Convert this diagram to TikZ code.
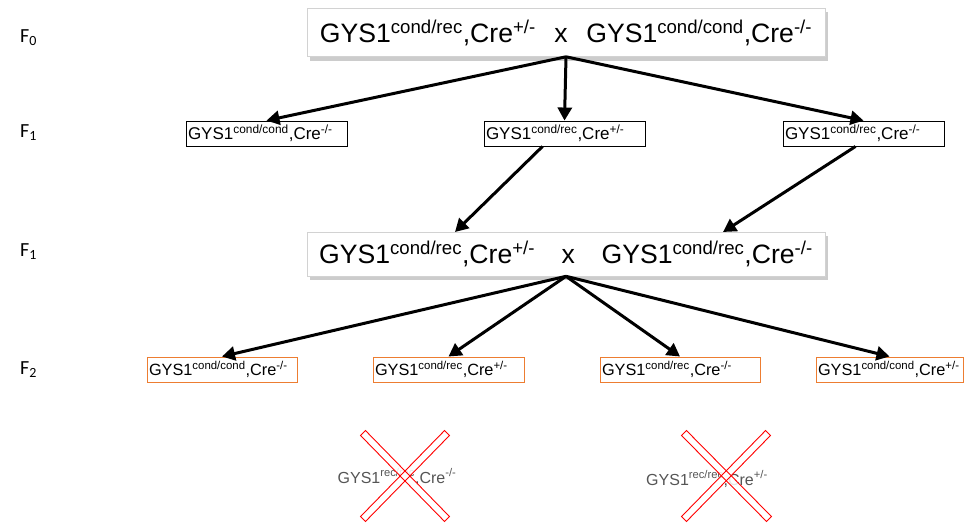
\documentclass[tikz,border=0pt]{standalone}
\usepackage{fontspec}
\setmainfont{Liberation Sans}
\newfontfamily\calfont{Carlito}
\usetikzlibrary{arrows.meta,shadows,calc}
\definecolor{offorange}{RGB}{237,125,49}
\definecolor{xgray}{RGB}{85,85,85}
\begin{document}
\begin{tikzpicture}[x=1pt,y=-1pt,
  bigbox/.style={draw=gray!35, fill=white, line width=0.6pt, minimum width=518pt, minimum height=48pt, inner sep=0pt,
    font=\fontsize{26.6}{30}\selectfont,
    drop shadow={shadow xshift=3pt, shadow yshift=-4pt, fill=gray!80, opacity=0.5}},
  smallbox/.style={draw=black, line width=0.9pt, fill=white, text width=157pt, align=left, minimum height=25pt,
    inner xsep=2pt, inner ysep=0pt, font=\fontsize{17}{19}\selectfont},
  obox/.style={draw=offorange, line width=1pt, fill=white, align=left, minimum height=25pt,
    inner xsep=2pt, inner ysep=0pt, font=\fontsize{16.3}{19}\selectfont},
  gen/.style={font=\calfont\fontsize{20}{22}\selectfont, anchor=west, inner sep=0pt},
  arr/.style={line width=3pt, -{Triangle[length=13pt,width=14pt]}},
  xtext/.style={text=xgray, font=\fontsize{16}{19}\selectfont, inner sep=0pt},
  xfill/.style={fill=white, opacity=0.85},
  xline/.style={draw=red, line width=0.9pt, line join=miter}
]
\useasboundingbox (0,0) rectangle (965,527);

% generation labels
\node[gen] (g0) at (20,38) {F\textsubscript{0}};
\node[gen] (g1) at (20,133) {F\textsubscript{1}};
\node[gen] (g2) at (20,252) {F\textsubscript{1}};
\node[gen] (g3) at (20,370) {F\textsubscript{2}};

% top cross
\node[bigbox] (p0) at (566,32.5) {GYS1\textsuperscript{cond/rec},Cre\textsuperscript{+/-}\hspace{0.7em}x\hspace{0.7em}GYS1\textsuperscript{cond/cond},Cre\textsuperscript{-/-}};

% F1 boxes
\node[smallbox] (a1) at (266.5,133.5) {GYS1\textsuperscript{cond/cond},Cre\textsuperscript{-/-}};
\node[smallbox] (a2) at (564.5,133.5) {GYS1\textsuperscript{cond/rec},Cre\textsuperscript{+/-}};
\node[smallbox] (a3) at (863.5,133.5) {GYS1\textsuperscript{cond/rec},Cre\textsuperscript{-/-}};

% second cross
\node[bigbox, minimum height=44pt] (p1) at (566,254) {GYS1\textsuperscript{cond/rec},Cre\textsuperscript{+/-}\hspace{1em}x\hspace{1em}GYS1\textsuperscript{cond/rec},Cre\textsuperscript{-/-}};

% F2 boxes
\node[obox, text width=146pt] (b1) at (222,369.5) {GYS1\textsuperscript{cond/cond},Cre\textsuperscript{-/-}};
\node[obox, text width=147pt] (b2) at (448.5,369.5) {GYS1\textsuperscript{cond/rec},Cre\textsuperscript{+/-}};
\node[obox, text width=156pt] (b3) at (680,369.5) {GYS1\textsuperscript{cond/rec},Cre\textsuperscript{-/-}};
\node[obox, text width=143pt] (b4) at (889.5,369.5) {GYS1\textsuperscript{cond/cond},Cre\textsuperscript{+/-}};

% arrows F0 -> F1
\draw[arr] (p0.south) -- (a1.north);
\draw[arr] (p0.south) -- (a2.north);
\draw[arr] (p0.south) -- (a3.north);

% arrows F1 -> second cross
\coordinate (s2) at ($(a2.south)+(-22,0)$);
\coordinate (s3) at ($(a3.south)+(-8,0)$);
\coordinate (e2) at (455,232);
\coordinate (e3) at (723,232);
\draw[arr] (s2) -- (e2);
\draw[arr] (s3) -- (e3);

% arrows second cross -> F2
\draw[arr] (p1.south) -- (b1.north);
\draw[arr] (p1.south) -- (b2.north);
\draw[arr] (p1.south) -- (b3.north);
\draw[arr] (p1.south) -- (b4.north);

% excluded genotypes
\node[xtext] (x1) at (397,477) {GYS1\textsuperscript{rec/rec},Cre\textsuperscript{-/-}};
\node[xtext] (x2) at (707,479) {GYS1\textsuperscript{rec/rec},Cre\textsuperscript{+/-}};
\coordinate (c1a) at (363,433); \coordinate (c1b) at (447,519);
\coordinate (c1c) at (447,433); \coordinate (c1d) at (363,519);
\coordinate (c2a) at (684,433); \coordinate (c2b) at (769,519);
\coordinate (c2c) at (768,433); \coordinate (c2d) at (684,519);
\foreach \p/\q in {c1a/c1b, c1c/c1d, c2a/c2b, c2c/c2d}{
  \fill[xfill] ($(\p)!3.5pt!90:(\q)$) -- ($(\q)!3.5pt!-90:(\p)$) -- ($(\q)!3.5pt!90:(\p)$) -- ($(\p)!3.5pt!-90:(\q)$) -- cycle;
}
\foreach \p/\q in {c1a/c1b, c1c/c1d, c2a/c2b, c2c/c2d}{
  \draw[xline] ($(\p)!3.5pt!90:(\q)$) -- ($(\q)!3.5pt!-90:(\p)$) -- ($(\q)!3.5pt!90:(\p)$) -- ($(\p)!3.5pt!-90:(\q)$) -- cycle;
}
\end{tikzpicture}
\end{document}
